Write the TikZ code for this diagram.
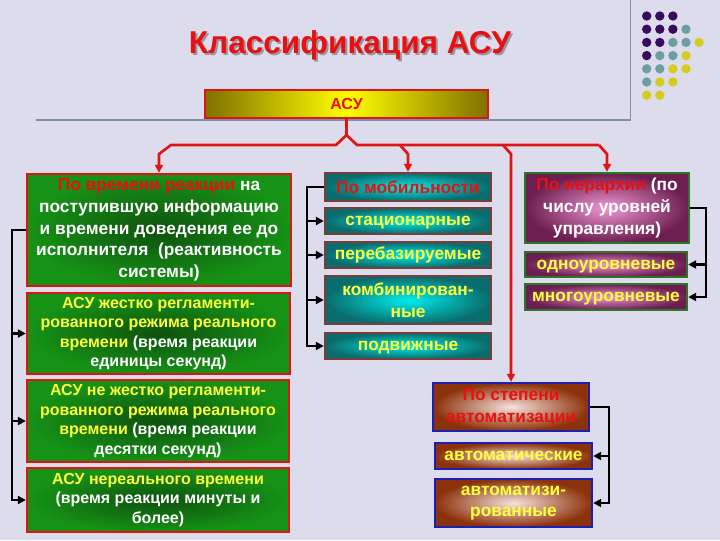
\documentclass[tikz,border=0pt]{standalone}
\usepackage{fontspec}
\setmainfont{Liberation Sans}
\usetikzlibrary{arrows.meta}
\definecolor{bg}{RGB}{220,220,236}
\definecolor{rulecol}{RGB}{128,144,168}
\definecolor{dotP}{RGB}{55,12,95}
\definecolor{dotT}{RGB}{110,158,160}
\definecolor{dotY}{RGB}{212,204,30}
\definecolor{ttlred}{RGB}{232,16,16}
\definecolor{lnred}{RGB}{225,20,20}
\definecolor{txtyel}{RGB}{255,255,60}
\tikzset{
  wh/.style 2 args={minimum width=#1*0.75pt, minimum height=#2*0.75pt},
  boxtext/.style={font=\bfseries\fontsize{13}{16.3}\selectfont, align=center, inner sep=1pt},
  smalltext/.style={font=\bfseries\fontsize{12}{14.6}\selectfont},
  oneline/.style={text height=9.4pt, text depth=2.6pt},
  greenbox/.style={boxtext, draw=lnred, line width=1.8pt, text=white,
    inner color={rgb,255:red,14;green,82;blue,14}, outer color={rgb,255:red,22;green,146;blue,22}},
  tealbox/.style={boxtext, draw={rgb,255:red,125;green,60;blue,55}, line width=1.8pt, text=txtyel,
    inner color={rgb,255:red,0;green,236;blue,236}, outer color={rgb,255:red,10;green,108;blue,108}},
  pinkbox/.style={boxtext, draw={rgb,255:red,40;green,120;blue,40}, line width=1.8pt, text=txtyel,
    inner color={rgb,255:red,240;green,150;blue,210}, outer color={rgb,255:red,108;green,30;blue,80}},
  brownbox/.style={boxtext, draw={rgb,255:red,30;green,30;blue,180}, line width=1.8pt, text=txtyel,
    inner color={rgb,255:red,246;green,226;blue,220}, outer color={rgb,255:red,140;green,50;blue,10}},
  redline/.style={draw=lnred, line width=2pt},
  redarrow/.style={redline, -{Triangle[length=6pt,width=6pt]}},
  blkarrow/.style={draw=black, line width=1.8pt, -{Triangle[length=6pt,width=6pt]}},
}
\begin{document}
\begin{tikzpicture}[x=0.75pt,y=-0.75pt]
\useasboundingbox[fill=bg] (0,0) rectangle (720,540);
% corner decoration
\draw[rulecol, line width=0.8pt] (36,120) -- (630.5,120) -- (630.5,0);
\foreach \r/\row in {0/{P,P,P}, 1/{P,P,P,T}, 2/{P,P,T,T,Y}, 3/{P,T,T,Y},
                     4/{T,T,Y,Y}, 5/{T,Y,Y}, 6/{Y,Y}}
  \foreach \k [count=\c from 0] in \row
    \fill[dot\k] (646.7+13.1*\c, 16+13.2*\r) circle (4.7);
% title
\node[anchor=base, text={rgb,255:red,150;green,150;blue,160}, font=\bfseries\fontsize{23.7}{28}\selectfont]
  at (352,55) {Классификация АСУ};
\node[anchor=base, text=ttlred, font=\bfseries\fontsize{23.7}{28}\selectfont]
  (title) at (350,53) {Классификация АСУ};
% root
\node[wh={283}{28}, draw=lnred, line width=1.8pt, font=\bfseries\fontsize{12}{14}\selectfont, text=ttlred,
  left color={rgb,255:red,128;green,112;blue,0}, right color={rgb,255:red,128;green,112;blue,0},
  middle color={rgb,255:red,255;green,255;blue,0}] (asu) at (346.5,104) {АСУ};
% reaction time
\node[greenbox, wh={264}{112}] (t1) at (159,230)
  {{\color{ttlred}По времени реакции} на\\поступившую информацию\\и времени доведения ее до\\исполнителя~ (реактивность\\системы)};
\node[greenbox, smalltext, wh={263}{81}] (t2) at (158.5,333.5)
  {{\color{txtyel}АСУ жестко регламенти-}\\{\color{txtyel}рованного режима реального}\\{\color{txtyel}времени} (время реакции\\единицы секунд)};
\node[greenbox, smalltext, wh={262}{82}] (t3) at (158,421)
  {{\color{txtyel}АСУ не жестко регламенти-}\\{\color{txtyel}рованного режима реального}\\{\color{txtyel}времени} (время реакции\\десятки секунд)};
\node[greenbox, smalltext, wh={262}{64}] (t4) at (158,500)
  {{\color{txtyel}АСУ нереального времени}\\(время реакции минуты и\\более)};
% mobility
\node[tealbox, wh={166}{28}, text=ttlred] (m0) at (408,187) {По мобильности};
\node[tealbox, oneline, wh={166}{26}] (m1) at (408,221) {стационарные};
\node[tealbox, oneline, wh={166}{26}] (m2) at (408,255) {перебазируемые};
\node[tealbox, wh={166}{48}] (m3) at (408,300) {комбинирован-\\ные};
\node[tealbox, oneline, wh={166}{26}] (m4) at (408,346) {подвижные};
% hierarchy
\node[pinkbox, wh={164}{70}, text=white] (h0) at (607,208)
  {{\color{ttlred}По иерархии} (по\\числу уровней\\управления)};
\node[pinkbox, oneline, wh={162}{25}] (h1) at (606,264.5) {одноуровневые};
\node[pinkbox, oneline, wh={162}{26}] (h2) at (606,297) {многоуровневые};
% automation
\node[brownbox, wh={156}{48}, text=ttlred] (a0) at (511,407) {По степени\\автоматизации};
\node[brownbox, oneline, wh={157}{26}] (a1) at (513.5,456) {автоматические};
\node[brownbox, wh={157}{48}] (a2) at (513.5,503) {автоматизи-\\рованные};
% red tree
\coordinate (peak) at (346.5,135);
\draw[redarrow] (asu.south) -- (peak) -- (336,145) -- (171,145) -- (159,154) -- (t1.north);
\draw[redline] (peak) -- (357,145) -- (599,145);
\draw[redarrow] (400,145) -- (408,154) -- (m0.north);
\draw[redarrow] (503,145) -- (511,154) -- (a0.north);
\draw[redarrow] (599,145) -- (607,154) -- (h0.north);
% brackets
\coordinate (lbus) at (12,0);
\coordinate (mbus) at (307,0);
\coordinate (hbus) at (706,0);
\coordinate (abus) at (609,0);
\draw[blkarrow] (t1.west) -- (lbus |- t1.west) -- (lbus |- t4.west) -- (t4.west);
\draw[blkarrow] (lbus |- t2.west) -- (t2.west);
\draw[blkarrow] (lbus |- t3.west) -- (t3.west);
\draw[blkarrow] (m0.west) -- (mbus |- m0.west) -- (mbus |- m4.west) -- (m4.west);
\foreach \n in {m1,m2,m3}
  \draw[blkarrow] (mbus |- \n.west) -- (\n.west);
\draw[blkarrow] (h0.east) -- (hbus |- h0.east) -- (hbus |- h2.east) -- (h2.east);
\draw[blkarrow] (hbus |- h1.east) -- (h1.east);
\draw[blkarrow] (a0.east) -- (abus |- a0.east) -- (abus |- a2.east) -- (a2.east);
\draw[blkarrow] (abus |- a1.east) -- (a1.east);
\end{tikzpicture}
\end{document}
